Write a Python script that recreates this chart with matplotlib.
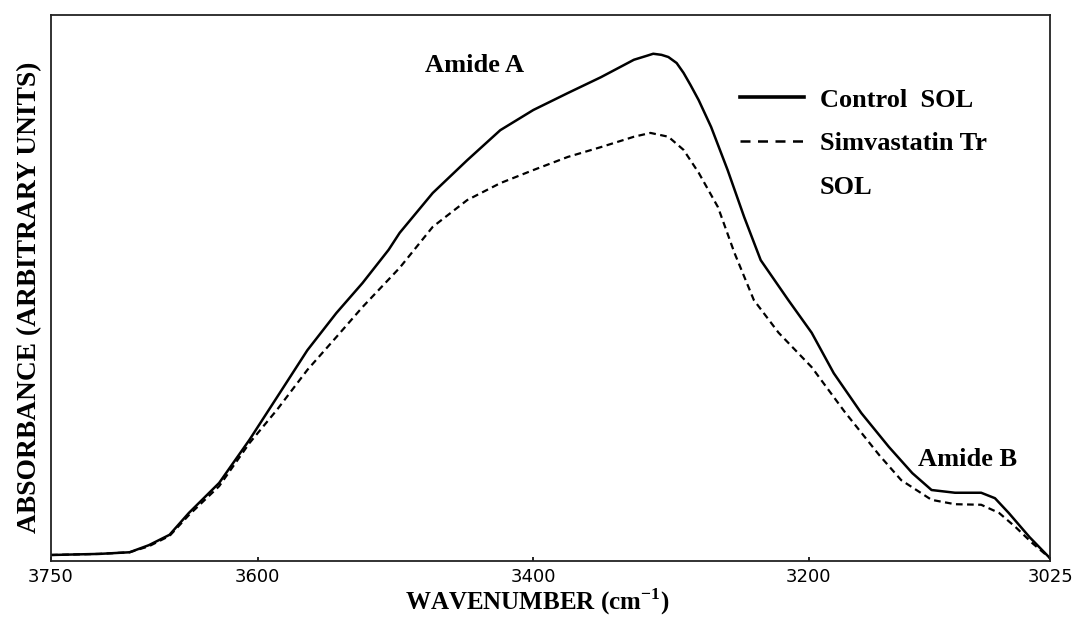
import matplotlib
matplotlib.use("Agg")
import matplotlib.pyplot as plt
from matplotlib.lines import Line2D

# FTIR absorbance in the amide A / amide B region (arbitrary units)
control_wn = [3750, 3715, 3693, 3679, 3664, 3650, 3628, 3606, 3586, 3564,
              3543, 3524, 3505, 3497, 3473, 3448, 3424, 3400, 3375, 3351,
              3327, 3318, 3313, 3307, 3302, 3296, 3291, 3286, 3280, 3271,
              3259, 3247, 3235, 3215, 3198, 3182, 3162, 3142, 3125, 3111,
              3094, 3075, 3065, 3055, 3040, 3025]
control_abs = [0.011, 0.013, 0.016, 0.029, 0.048, 0.088, 0.143, 0.222, 0.300, 0.386,
               0.454, 0.509, 0.570, 0.601, 0.674, 0.734, 0.789, 0.826, 0.857, 0.886,
               0.918, 0.925, 0.929, 0.927, 0.923, 0.912, 0.894, 0.872, 0.844, 0.795,
               0.716, 0.630, 0.551, 0.478, 0.418, 0.344, 0.271, 0.209, 0.161, 0.130,
               0.125, 0.125, 0.115, 0.088, 0.044, 0.005]

simva_wn = [3750, 3715, 3693, 3679, 3664, 3650, 3628, 3606, 3586, 3564,
            3543, 3524, 3497, 3473, 3448, 3424, 3400, 3375, 3351, 3327,
            3315, 3302, 3291, 3280, 3266, 3254, 3240, 3222, 3198, 3174,
            3149, 3133, 3111, 3094, 3075, 3062, 3050, 3038, 3025]
simva_abs = [0.011, 0.013, 0.016, 0.027, 0.046, 0.084, 0.137, 0.216, 0.277, 0.350,
             0.410, 0.465, 0.537, 0.612, 0.661, 0.692, 0.716, 0.740, 0.758, 0.777,
             0.784, 0.777, 0.753, 0.711, 0.648, 0.564, 0.478, 0.418, 0.355, 0.273,
             0.194, 0.148, 0.112, 0.104, 0.103, 0.088, 0.062, 0.033, 0.005]

x_ticks = [3750, 3600, 3400, 3200, 3025]
series_labels = ["Control  SOL", "Simvastatin Tr", "SOL"]

serif = "Liberation Serif"
plt.rcParams["mathtext.fontset"] = "custom"
plt.rcParams["mathtext.rm"] = "Liberation Serif"
plt.rcParams["mathtext.bf"] = "Liberation Serif:bold"

fig = plt.figure(figsize=(10.77, 6.19), dpi=100)
ax = fig.add_axes([0.0474, 0.0937, 0.9276, 0.8821])

ax.plot(control_wn, control_abs, color="black", lw=1.8, solid_joinstyle="round")
ax.plot(simva_wn, simva_abs, color="black", lw=1.6, linestyle=(0, (3, 2)))

ax.set_xlim(3750, 3025)
ax.set_ylim(0, 1)
ax.set_xticks(x_ticks)
ax.set_xticklabels([str(t) for t in x_ticks], fontsize=13, family="DejaVu Sans")
ax.tick_params(axis="x", direction="in", length=3, width=1.2, pad=5)
ax.set_yticks([])

for sp in ax.spines.values():
    sp.set_linewidth(1.3)
    sp.set_color("#222222")

ax.set_xlabel("WAVENUMBER (cm$^{\\mathbf{-1}}$)", fontsize=18, fontweight="bold",
              family=serif)
ax.xaxis.set_label_coords(0.487, -0.047)
ax.set_ylabel("ABSORBANCE (ARBITRARY UNITS)", fontsize=19.8, fontweight="bold",
              family=serif)
ax.yaxis.set_label_coords(-0.009, 0.4835)

ax.text(3443, 0.907, "Amide A", fontsize=19, fontweight="bold", family=serif,
        ha="center", va="center")
ax.text(3085, 0.185, "Amide B", fontsize=19, fontweight="bold", family=serif,
        ha="center", va="center")

handles = [Line2D([], [], color="black", lw=2.6),
           Line2D([], [], color="black", lw=1.8, linestyle=(0, (4, 3))),
           Line2D([], [], linestyle="none")]
ax.legend(handles, series_labels, loc="upper left", bbox_to_anchor=(0.69, 0.866),
          frameon=False, borderpad=0, borderaxespad=0, handlelength=2.4,
          handletextpad=0.6, labelspacing=0.77,
          prop={"family": serif, "weight": "bold", "size": 19})

fig.savefig("out.png", dpi=100)
